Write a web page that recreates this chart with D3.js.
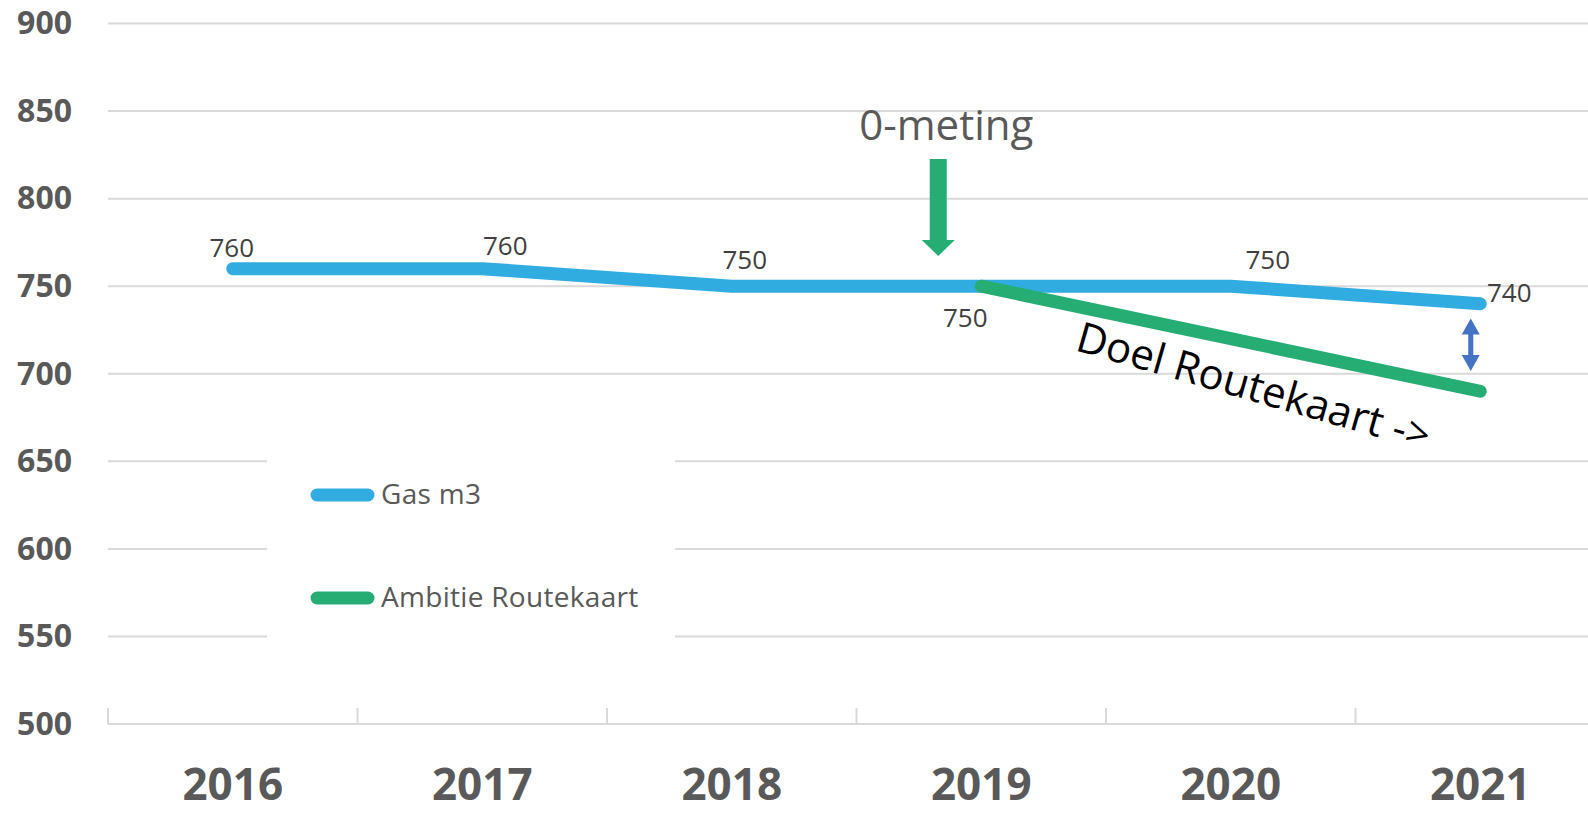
<!DOCTYPE html>
<html>
<head>
<meta charset="utf-8">
<script src="https://cdn.jsdelivr.net/npm/d3@7"></script>
<style>
  body { margin: 0; background: #fff; }
  text { font-family: "Open Sans", "Noto Sans", sans-serif; }
</style>
</head>
<body>
<div class="chart"></div>
<script>
let FRAME_WIDTH = 1588;
let FRAME_HEIGHT = 813;
let MARGINS = {left: 108, top: 23.5, bottom: 89};

// data
let YEARS = ["2016", "2017", "2018", "2019", "2020", "2021"];
let GAS = [760, 760, 750, 750, 750, 740];
let AMBITIE = [null, null, null, 750, 720, 690];
let Y_TICKS = [500, 550, 600, 650, 700, 750, 800, 850, 900];
let SERIES_NAMES = ["Gas m3", "Ambitie Routekaart"];

// label offsets (px) relative to their point, set by hand like in the original
let LABEL_OFFSETS = [[-1, -12], [23, -14], [13, -17], [-16, 41], [37, -17], [29, -2]];

let BLUE = "#31ACE1";
let GREEN = "#26AD74";
let GRID = "#D9D9D9";
let AXIS_TEXT = "#595959";

let FRAME = d3.select(".chart")
              .append("svg")
              .attr("width", FRAME_WIDTH)
              .attr("height", FRAME_HEIGHT);

FRAME.append("rect")
     .attr("width", FRAME_WIDTH)
     .attr("height", FRAME_HEIGHT)
     .attr("fill", "#fff");

// band of 249.5px per year, last one runs off the right side
const BAND = 249.5;
const X_SCALE = d3.scaleBand()
                  .domain(YEARS)
                  .range([MARGINS.left, MARGINS.left + BAND * YEARS.length]);

const Y_SCALE = d3.scaleLinear()
                  .domain([500, 900])
                  .range([FRAME_HEIGHT - MARGINS.bottom, MARGINS.top]);

const xMid = (yr) => X_SCALE(yr) + X_SCALE.bandwidth() / 2;

// gridlines
FRAME.append("g")
     .selectAll("line")
     .data(Y_TICKS.filter(d => d > 500))
     .enter()
     .append("line")
       .attr("x1", MARGINS.left)
       .attr("x2", FRAME_WIDTH)
       .attr("y1", d => Y_SCALE(d))
       .attr("y2", d => Y_SCALE(d))
       .attr("stroke", GRID)
       .attr("stroke-width", 2);

// x axis line + inside ticks
let baseY = Y_SCALE(500);
FRAME.append("line")
     .attr("x1", MARGINS.left)
     .attr("x2", FRAME_WIDTH)
     .attr("y1", baseY)
     .attr("y2", baseY)
     .attr("stroke", GRID)
     .attr("stroke-width", 2);

FRAME.append("g")
     .selectAll("line")
     .data(YEARS)
     .enter()
     .append("line")
       .attr("x1", d => X_SCALE(d))
       .attr("x2", d => X_SCALE(d))
       .attr("y1", baseY)
       .attr("y2", baseY - 16)
       .attr("stroke", GRID)
       .attr("stroke-width", 2);

// y axis labels
let yAxis = FRAME.append("g")
     .attr("transform", "translate(" + MARGINS.left + ",0)")
     .call(d3.axisLeft(Y_SCALE).tickValues(Y_TICKS).tickSize(0).tickPadding(36));
yAxis.select(".domain").remove();
yAxis.selectAll("text")
     .attr("font-family", "'Open Sans', sans-serif")
     .attr("font-size", "32px")
     .attr("font-weight", "bold")
     .attr("fill", AXIS_TEXT);

// x axis labels
let xAxis = FRAME.append("g")
     .attr("transform", "translate(0," + baseY + ")")
     .call(d3.axisBottom(X_SCALE).tickSize(0));
xAxis.select(".domain").remove();
xAxis.selectAll("text")
     .attr("y", 76)
     .attr("dy", 0)
     .attr("font-family", "'Open Sans', sans-serif")
     .attr("font-size", "44px")
     .attr("font-weight", "bold")
     .attr("fill", AXIS_TEXT);

// legend box (white, hides the gridlines behind it)
FRAME.append("rect")
     .attr("x", 267)
     .attr("y", 420)
     .attr("width", 408)
     .attr("height", 262)
     .attr("fill", "#fff");

// lines
let gasData = YEARS.map((y, i) => ({year: y, value: GAS[i]}));
let ambData = YEARS.map((y, i) => ({year: y, value: AMBITIE[i]}));

let lineGen = d3.line()
                .defined(d => d.value !== null)
                .x(d => xMid(d.year))
                .y(d => Y_SCALE(d.value));

FRAME.append("path")
     .datum(gasData)
     .attr("d", lineGen)
     .attr("fill", "none")
     .attr("stroke", BLUE)
     .attr("stroke-width", 13)
     .attr("stroke-linecap", "round")
     .attr("stroke-linejoin", "round");

FRAME.append("path")
     .datum(ambData)
     .attr("d", lineGen)
     .attr("fill", "none")
     .attr("stroke", GREEN)
     .attr("stroke-width", 13)
     .attr("stroke-linecap", "round")
     .attr("stroke-linejoin", "round");

// data labels: gas labels, except 2019 which shows the ambitie start value
let labelData = YEARS.map((y, i) => ({
    year: y,
    value: i === 3 ? AMBITIE[i] : GAS[i],
    off: LABEL_OFFSETS[i]
}));

FRAME.append("g")
     .selectAll("text")
     .data(labelData)
     .enter()
     .append("text")
       .attr("x", d => xMid(d.year) + d.off[0])
       .attr("y", d => Y_SCALE(d.value) + d.off[1])
       .attr("text-anchor", "middle")
       .attr("font-size", "26px")
       .attr("fill", "#404040")
       .text(d => d.value);

// legend
let legend = FRAME.append("g");
let legendY = [495, 598];
let legendColors = [BLUE, GREEN];
SERIES_NAMES.forEach((name, i) => {
    legend.append("line")
          .attr("x1", 317)
          .attr("x2", 368)
          .attr("y1", legendY[i])
          .attr("y2", legendY[i])
          .attr("stroke", legendColors[i])
          .attr("stroke-width", 13)
          .attr("stroke-linecap", "round");
    legend.append("text")
          .attr("x", 381)
          .attr("y", legendY[i] + 9)
          .attr("font-size", "28px")
          .attr("letter-spacing", "0.3px")
          .attr("fill", AXIS_TEXT)
          .text(name);
});

// annotation: 0-meting with green down arrow
let arrowX = xMid("2019") - 43;
FRAME.append("text")
     .attr("x", arrowX + 8)
     .attr("y", 140)
     .attr("text-anchor", "middle")
     .attr("font-size", "42px")
     .attr("fill", AXIS_TEXT)
     .text("0-meting");

FRAME.append("path")
     .attr("d", "M" + (arrowX - 8.5) + ",159 h17 v81 h8 l-16.5,16 l-16.5,-16 h8 z")
     .attr("fill", GREEN);

// annotation: double arrow at 2021
let dax = xMid("2021") - 9.5;
let topY = Y_SCALE(731.5), botY = Y_SCALE(701.5);
FRAME.append("path")
     .attr("d", "M" + dax + "," + topY +
                " l9,16 h-6.5 v" + (botY - topY - 32) + " h6.5 l-9,16 l-9,-16 h6.5 v" +
                (-(botY - topY - 32)) + " h-6.5 z")
     .attr("fill", "#4472C4");

// annotation: rotated Doel Routekaart text
FRAME.append("text")
     .attr("x", 1074)
     .attr("y", 350)
     .attr("transform", "rotate(16, 1074, 350)")
     .attr("font-size", "42px")
     .attr("fill", "#000")
     .text("Doel Routekaart ->");
</script>
</body>
</html>
